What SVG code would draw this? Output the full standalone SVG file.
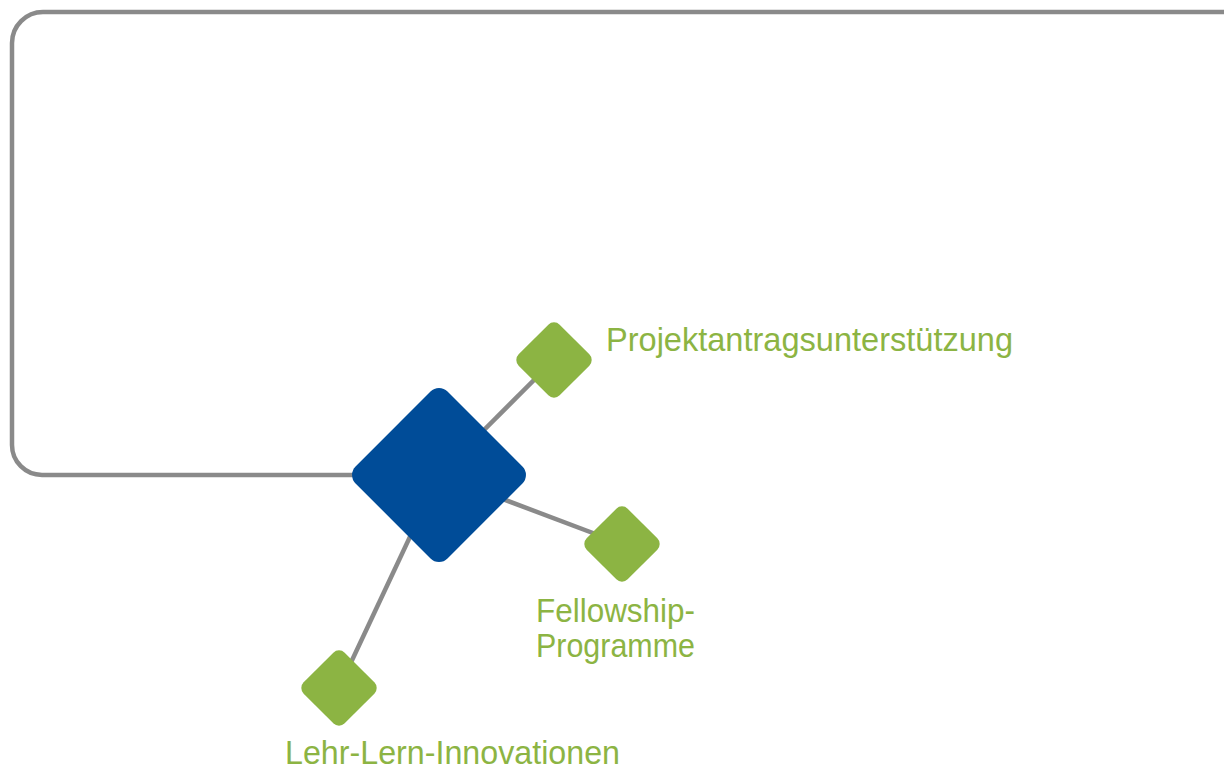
<svg xmlns="http://www.w3.org/2000/svg" width="1224" height="771" viewBox="0 0 1224 771">
<style>
.conn{stroke:#8a8a8a;stroke-width:4.5;fill:none}
.green{fill:#8cb443}
.blue{fill:#004c98}
.lbl{font-family:"Liberation Sans",Arial,sans-serif;font-size:33px;fill:#8cb443}
</style>
<rect width="1224" height="771" fill="#ffffff"/>
<g id="connectors">
<path class="conn" d="M1230 12 H43 A31 31 0 0 0 12 43 V445 A30 30 0 0 0 42 475 H439"/>
<line class="conn" x1="439" y1="475" x2="554" y2="360"/>
<line class="conn" x1="439" y1="475" x2="622" y2="544"/>
<line class="conn" x1="439" y1="475" x2="339" y2="688"/>
</g>
<g id="center">
<rect class="blue" x="-65" y="-65" width="130" height="130" rx="12" transform="translate(439 475) rotate(45)"/>
</g>
<g id="projekt">
<rect class="green" x="-29" y="-29" width="58" height="58" rx="8" transform="translate(554 360) rotate(45)"/>
<text class="lbl" x="606" y="351" textLength="407" lengthAdjust="spacingAndGlyphs">Projektantragsunterstützung</text>
</g>
<g id="fellowship">
<rect class="green" x="-29" y="-29" width="58" height="58" rx="8" transform="translate(622 544) rotate(45)"/>
<text class="lbl" x="536" y="622" textLength="159" lengthAdjust="spacingAndGlyphs">Fellowship-</text>
<text class="lbl" x="536" y="657" textLength="159" lengthAdjust="spacingAndGlyphs">Programme</text>
</g>
<g id="lehr">
<rect class="green" x="-29" y="-29" width="58" height="58" rx="8" transform="translate(339 688) rotate(45)"/>
<text class="lbl" x="285" y="764" textLength="335" lengthAdjust="spacingAndGlyphs">Lehr-Lern-Innovationen</text>
</g>
</svg>
